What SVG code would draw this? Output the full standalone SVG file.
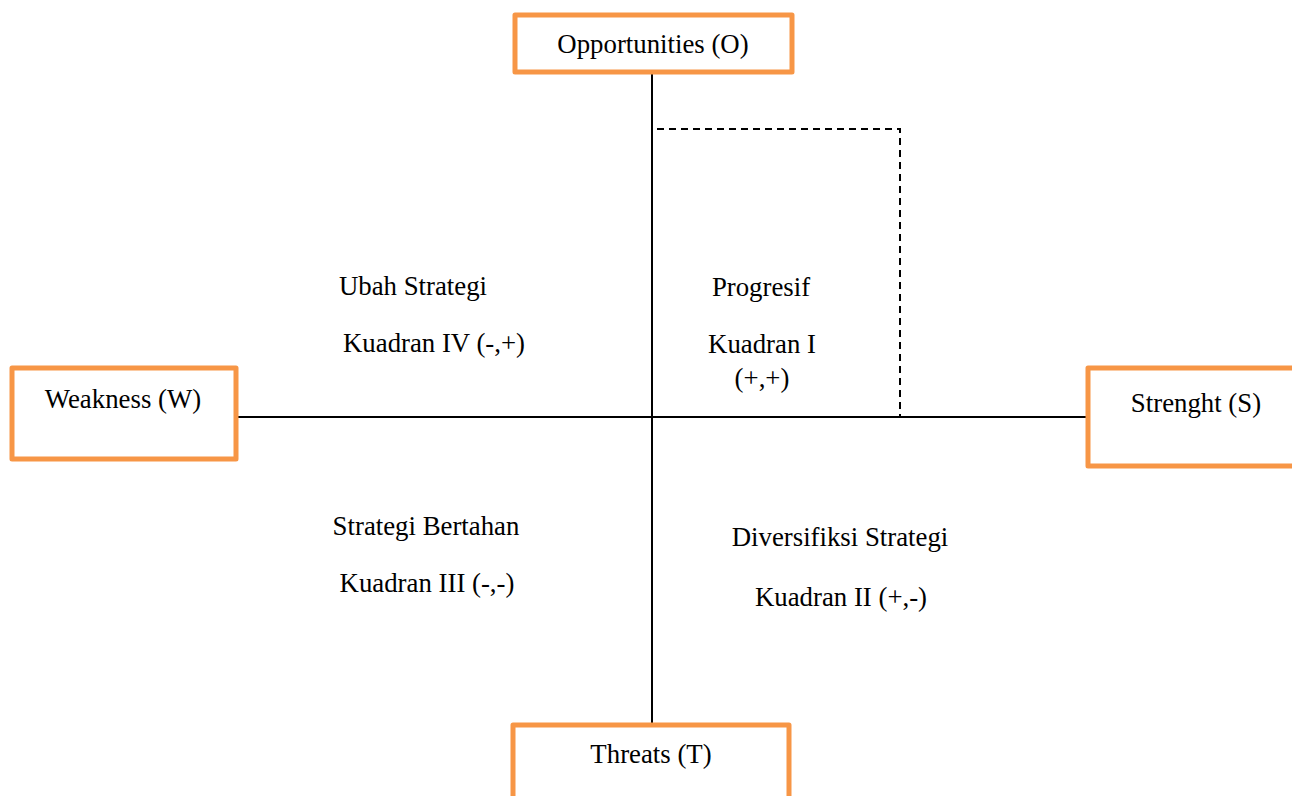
<svg xmlns="http://www.w3.org/2000/svg" width="1292" height="796" viewBox="0 0 1292 796">
<style>
.box{fill:#fff;stroke:#F79646;stroke-width:5;stroke-linejoin:round}
.t{font-family:"Liberation Serif","Times New Roman",serif;font-size:26.8px;fill:#000;text-anchor:middle}
.ln{stroke:#000;stroke-width:2;fill:none}
.dash{stroke:#000;stroke-width:2;fill:none;stroke-dasharray:7,5}
</style>
<rect width="1292" height="796" fill="#fff"/>
<g id="connectors">
<line class="ln" x1="652" y1="72" x2="652" y2="724"/>
<line class="ln" x1="237" y1="417" x2="1087" y2="417"/>
<polyline class="dash" points="657,129 900,129 900,417"/>
</g>
<g id="opportunities"><rect class="box" x="515" y="15" width="277" height="57"/><text class="t" x="653" y="53">Opportunities (O)</text></g>
<g id="weakness"><rect class="box" x="12" y="368" width="224" height="91"/><text class="t" x="123" y="408">Weakness (W)</text></g>
<g id="strength"><rect class="box" x="1088" y="368" width="210" height="98"/><text class="t" x="1196" y="412">Strenght (S)</text></g>
<g id="threats"><rect class="box" x="513" y="725" width="276" height="80"/><text class="t" x="651" y="763">Threats (T)</text></g>
<g id="q4"><text class="t" x="413" y="295">Ubah Strategi</text><text class="t" x="434" y="352">Kuadran IV (-,+)</text></g>
<g id="q1"><text class="t" x="761" y="296">Progresif</text><text class="t" x="762" y="353">Kuadran I</text><text class="t" x="762" y="387">(+,+)</text></g>
<g id="q3"><text class="t" x="426" y="535">Strategi Bertahan</text><text class="t" x="427" y="592">Kuadran III (-,-)</text></g>
<g id="q2"><text class="t" x="840" y="546">Diversifiksi Strategi</text><text class="t" x="841" y="606">Kuadran II (+,-)</text></g>
</svg>
